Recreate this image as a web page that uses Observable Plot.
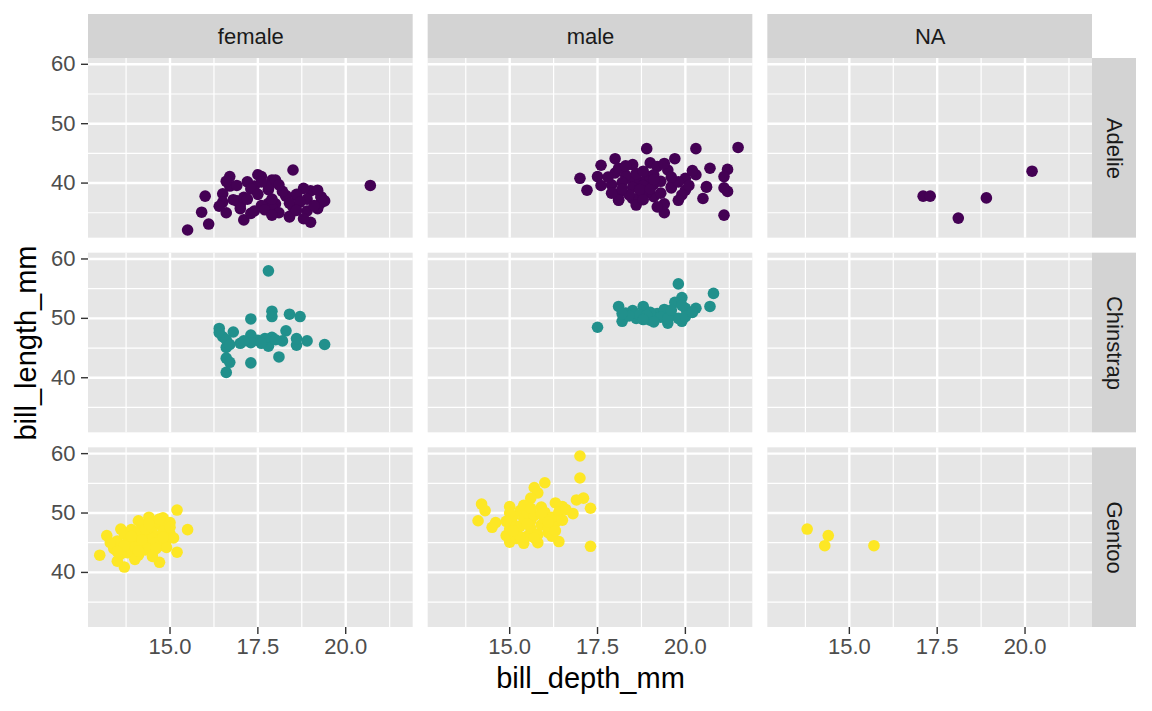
<!DOCTYPE html>
<html>
<head>
<meta charset="utf-8">
<script src="https://cdn.jsdelivr.net/npm/d3@7"></script>
<script src="https://cdn.jsdelivr.net/npm/@observablehq/plot@0.6"></script>
<style>
  body { margin: 0; background: white; }
</style>
</head>
<body>
<div id="myplot"></div>
<script>
const sexes = ["female", "male", "NA"];
const species = ["Adelie", "Chinstrap", "Gentoo"];
const speciesColors = ["#440154", "#21908C", "#FDE725"];
const xTicks = [15, 17.5, 20];
const xMinor = [13.75, 16.25, 18.75, 21.25];
const yTicks = [40, 50, 60];
const yMinor = [35, 45, 55];

// [bill_depth_mm, bill_length_mm]
const adelieFemale = [
  [17.4, 39.5], [18.0, 40.3], [19.3, 36.7], [17.8, 38.9], [17.6, 41.1], [17.8, 36.6],
  [19.0, 38.7], [18.4, 34.4], [18.3, 37.8], [19.2, 35.9], [18.9, 35.3], [17.9, 40.5],
  [18.6, 37.9], [16.7, 39.5], [17.8, 39.5], [17.0, 36.4], [18.5, 42.2], [19.3, 37.6],
  [18.0, 36.5], [18.5, 36.0], [16.9, 37.0], [17.9, 36.0], [15.5, 32.1], [16.1, 33.1],
  [15.9, 35.1], [16.0, 37.8], [19.0, 33.4], [17.1, 33.8], [16.7, 41.1], [17.5, 41.4],
  [18.4, 34.3], [19.3, 37.7], [19.2, 35.7], [18.8, 39.1], [18.3, 37.9], [16.5, 38.2],
  [16.5, 36.8], [18.0, 40.5], [20.7, 39.6], [16.6, 40.3], [17.2, 40.2], [17.3, 39.0],
  [16.9, 39.6], [17.1, 37.6], [17.6, 36.2], [17.0, 35.7], [16.6, 35.0], [17.3, 34.9],
  [17.7, 35.5], [18.1, 35.0], [18.4, 36.6], [18.6, 38.1], [18.9, 37.3], [19.1, 36.2],
  [18.7, 36.8], [18.2, 38.6], [17.5, 38.1], [17.2, 37.3], [16.8, 37.2], [17.9, 37.3],
  [18.1, 39.7], [17.6, 40.2], [16.4, 36.1], [17.4, 35.3], [18.6, 35.4], [19.2, 38.8],
  [19.4, 37.0], [17.9, 34.6], [18.8, 34.0]
];
const adelieMale = [
  [18.7, 39.1], [20.6, 39.3], [19.6, 39.2], [21.2, 38.6], [21.1, 34.6], [20.7, 42.5],
  [21.5, 46.0], [18.7, 37.7], [18.1, 38.2], [17.2, 38.8], [18.6, 40.6], [18.9, 40.5],
  [18.1, 37.2], [18.9, 40.9], [21.1, 39.2], [20.0, 38.8], [19.1, 39.8], [18.4, 40.8],
  [19.7, 44.1], [18.8, 39.6], [19.0, 41.1], [21.2, 42.3], [17.0, 40.8], [17.6, 43.0],
  [17.5, 41.1], [18.0, 44.1], [18.9, 45.8], [20.3, 45.8], [19.4, 35.0], [21.1, 41.1],
  [20.6, 39.4], [20.5, 37.4], [20.3, 41.4], [20.0, 40.8], [19.9, 38.0], [19.6, 39.4],
  [18.1, 37.1], [18.5, 37.4], [19.1, 37.7], [19.4, 36.5], [17.9, 39.7], [18.0, 41.7],
  [18.5, 43.1], [19.0, 43.4], [19.2, 42.8], [19.5, 42.2], [18.3, 41.3], [18.6, 41.6],
  [18.8, 42.0], [19.1, 41.4], [18.2, 40.1], [18.5, 39.3], [18.9, 38.4], [19.3, 40.3],
  [18.7, 38.9], [18.4, 38.0], [19.0, 39.0], [17.8, 41.0], [18.1, 42.5], [19.3, 38.3],
  [19.8, 40.2], [18.6, 36.3], [19.2, 36.0], [18.2, 39.0], [19.6, 41.0], [19.1, 40.6],
  [17.9, 38.3], [18.8, 37.2], [20.2, 42.1], [19.8, 37.1], [18.3, 42.9], [17.6, 39.6],
  [20.1, 39.6], [19.4, 43.3]
];
const adelieNA = [[17.1, 37.8], [17.3, 37.8], [18.1, 34.1], [18.9, 37.5], [20.2, 42.0]];

const chinstrapFemale = [
  [17.8, 58.0], [17.9, 51.2], [17.9, 50.3], [18.4, 50.7], [18.7, 50.3], [17.3, 49.9],
  [16.4, 48.3], [16.8, 47.7], [16.5, 46.9], [16.6, 45.1], [16.6, 43.3], [16.7, 42.6],
  [16.6, 40.9], [17.3, 42.5], [18.1, 43.5], [19.4, 45.6], [18.9, 46.2], [18.6, 45.5],
  [18.6, 46.6], [18.3, 47.9], [18.2, 46.2], [17.8, 45.3], [17.9, 46.8], [17.5, 46.3],
  [17.3, 47.2], [17.3, 45.9], [17.0, 45.8], [17.1, 46.2], [17.7, 46.6], [16.4, 47.6],
  [16.6, 46.4], [16.7, 45.6], [17.6, 45.8], [18.0, 46.4]
];
const chinstrapMale = [
  [17.5, 48.5], [19.8, 55.8], [20.8, 54.2], [20.7, 52.0], [20.3, 51.7], [18.1, 52.0],
  [18.2, 49.5], [19.9, 53.5], [20.0, 51.7], [19.9, 49.5], [19.5, 49.2], [19.0, 49.7],
  [18.6, 50.0], [18.8, 52.0], [18.5, 51.3], [19.2, 50.8], [19.0, 51.0], [19.6, 50.5],
  [19.8, 50.0], [18.7, 50.6], [18.3, 50.9], [19.4, 51.5], [19.7, 52.7], [20.0, 50.3],
  [19.3, 50.2], [18.9, 50.5], [18.4, 50.4], [19.5, 50.0], [18.2, 50.8], [20.2, 51.0],
  [19.1, 49.4], [19.9, 52.2], [19.6, 51.4], [18.8, 49.8]
];

const gentooFemale = [
  [15.2, 50.5], [15.5, 47.2], [15.2, 43.4], [14.7, 41.7], [13.7, 40.9], [13.0, 42.9],
  [13.2, 46.2], [13.5, 41.9], [14.1, 48.7], [14.4, 49.3], [14.8, 49.2], [15.0, 48.4],
  [13.6, 47.3], [13.4, 44.0], [13.5, 45.3], [13.7, 46.5], [13.8, 43.3], [13.9, 44.6],
  [14.0, 45.8], [14.1, 42.9], [14.2, 44.1], [14.3, 46.7], [14.4, 45.1], [14.5, 47.5],
  [14.5, 43.5], [14.6, 46.1], [14.7, 44.5], [14.8, 47.8], [14.9, 45.4], [15.0, 46.5],
  [14.2, 48.0], [13.9, 47.2], [13.6, 43.1], [14.0, 42.2], [14.3, 43.8], [14.6, 48.6],
  [14.8, 46.9], [15.0, 47.6], [14.1, 46.9], [13.8, 45.1], [14.4, 44.6], [14.9, 44.2],
  [13.3, 45.0], [14.7, 49.0], [14.5, 45.7], [14.0, 44.3], [13.7, 44.5], [14.2, 45.5],
  [14.6, 45.0], [15.1, 45.8], [13.9, 46.1], [14.3, 47.3], [14.5, 42.7], [14.8, 45.9],
  [13.5, 43.5], [14.1, 43.6], [14.4, 48.2], [14.6, 44.0]
];
const gentooMale = [
  [17.0, 59.6], [17.0, 55.9], [17.3, 44.4], [17.3, 50.8], [17.1, 52.5], [16.9, 52.2],
  [16.8, 49.9], [16.0, 55.1], [15.7, 54.3], [15.8, 53.4], [15.6, 52.5], [14.2, 51.5],
  [14.3, 50.4], [14.1, 48.7], [14.5, 47.6], [14.6, 48.4], [15.0, 51.1], [15.3, 50.4],
  [15.0, 45.1], [15.4, 44.9], [15.8, 45.0], [16.4, 45.2], [16.1, 46.7], [16.3, 51.7],
  [16.5, 51.1], [16.3, 48.4], [15.9, 51.0], [15.6, 48.7], [14.9, 46.2], [15.0, 47.3],
  [15.1, 48.1], [15.1, 49.5], [15.2, 46.5], [15.3, 47.8], [15.4, 49.1], [15.5, 46.1],
  [15.5, 50.0], [15.6, 47.4], [15.7, 49.6], [15.8, 46.4], [15.9, 48.0], [16.0, 50.1],
  [16.1, 47.5], [16.2, 49.3], [16.2, 46.1], [16.4, 50.2], [16.5, 48.8], [15.0, 50.0],
  [15.2, 45.7], [15.4, 51.3], [15.7, 45.8], [16.0, 49.0], [16.3, 47.0], [15.3, 46.0],
  [15.9, 49.8], [16.6, 50.6], [15.1, 47.0], [15.6, 50.8], [16.1, 48.5], [14.9, 48.6],
  [15.5, 48.2]
];
const gentooNA = [[13.8, 47.3], [14.3, 44.5], [14.4, 46.2], [15.7, 44.5]];

const groups = [
  ["Adelie", "female", adelieFemale], ["Adelie", "male", adelieMale], ["Adelie", "NA", adelieNA],
  ["Chinstrap", "female", chinstrapFemale], ["Chinstrap", "male", chinstrapMale],
  ["Gentoo", "female", gentooFemale], ["Gentoo", "male", gentooMale], ["Gentoo", "NA", gentooNA]
];
const data = groups.flatMap(([sp, sex, pts]) =>
  pts.map(([depth, length]) => ({species: sp, sex, depth, length}))
);

// layout (pixels)
const W = 1152, H = 711;
const mL = 88, mR = 60, mT = 58, mB = 84;
const padX = 0.0441, padY = 0.0771;
const panelW = (W - mL - mR) / (3 - padX) * (1 - padX);
const panelH = (H - mT - mB) / (3 - padY) * (1 - padY);
const strip = 44;

const panels = d3.cross(sexes, species, (sex, sp) => ({sex, species: sp}));
const topStrips = sexes.map((sex) => ({sex, species: species[0]}));
const rightStrips = species.map((sp) => ({sex: sexes[2], species: sp}));

const plot = Plot.plot({
  width: W,
  height: H,
  marginLeft: mL,
  marginRight: mR,
  marginTop: mT,
  marginBottom: mB,
  style: {fontFamily: "'Liberation Sans', Arial, sans-serif", background: "white", overflow: "visible"},
  fx: {domain: sexes, paddingInner: padX, paddingOuter: 0, round: false, axis: null, label: null},
  fy: {domain: species, paddingInner: padY, paddingOuter: 0, round: false, axis: null, label: null},
  x: {domain: [12.68, 21.92]},
  y: {domain: [30.725, 60.975]},
  color: {domain: species, range: speciesColors},
  marks: [
    Plot.rect(panels, {fx: "sex", fy: "species", fill: "#E6E6E6"}),
    Plot.gridX(xMinor, {stroke: "white", strokeOpacity: 1, strokeWidth: 1.2}),
    Plot.gridY(yMinor, {stroke: "white", strokeOpacity: 1, strokeWidth: 1.2}),
    Plot.gridX(xTicks, {stroke: "white", strokeOpacity: 1, strokeWidth: 2.4}),
    Plot.gridY(yTicks, {stroke: "white", strokeOpacity: 1, strokeWidth: 2.4}),
    // strips
    Plot.rect(topStrips, {fx: "sex", fy: "species", fill: "#D3D3D3", insetTop: -strip, insetBottom: panelH}),
    Plot.rect(rightStrips, {fx: "sex", fy: "species", fill: "#D3D3D3", insetLeft: panelW, insetRight: -strip}),
    Plot.text(topStrips, {
      fx: "sex", fy: "species", text: "sex", frameAnchor: "top", dy: -strip / 2,
      textAnchor: "middle", lineAnchor: "middle", fontSize: 22, fill: "#1A1A1A"
    }),
    Plot.text(rightStrips, {
      fx: "sex", fy: "species", text: "species", frameAnchor: "right", dx: strip / 2, rotate: 90,
      textAnchor: "middle", lineAnchor: "middle", fontSize: 22, fill: "#1A1A1A"
    }),
    // points
    Plot.dot(data, {x: "depth", y: "length", fx: "sex", fy: "species", fill: "species", r: 5.8}),
    // axes
    Plot.axisX({ticks: xTicks, tickFormat: d3.format(".1f"), tickSize: 7, tickPadding: 4, fontSize: 22, stroke: "#333333", fill: "#4D4D4D", strokeWidth: 1.4, label: null}),
    Plot.axisY({ticks: yTicks, tickSize: 7, tickPadding: 6, fontSize: 22, stroke: "#333333", fill: "#4D4D4D", strokeWidth: 1.4, label: null}),
    Plot.text(["bill_depth_mm"], {facet: "super", frameAnchor: "bottom", dy: 51, textAnchor: "middle", lineAnchor: "middle", fontSize: 29, fill: "black"}),
    Plot.text(["bill_length_mm"], {facet: "super", frameAnchor: "left", dx: -62, rotate: -90, textAnchor: "middle", lineAnchor: "middle", fontSize: 29, fill: "black"})
  ]
});

document.querySelector("#myplot").append(plot);
</script>
</body>
</html>
